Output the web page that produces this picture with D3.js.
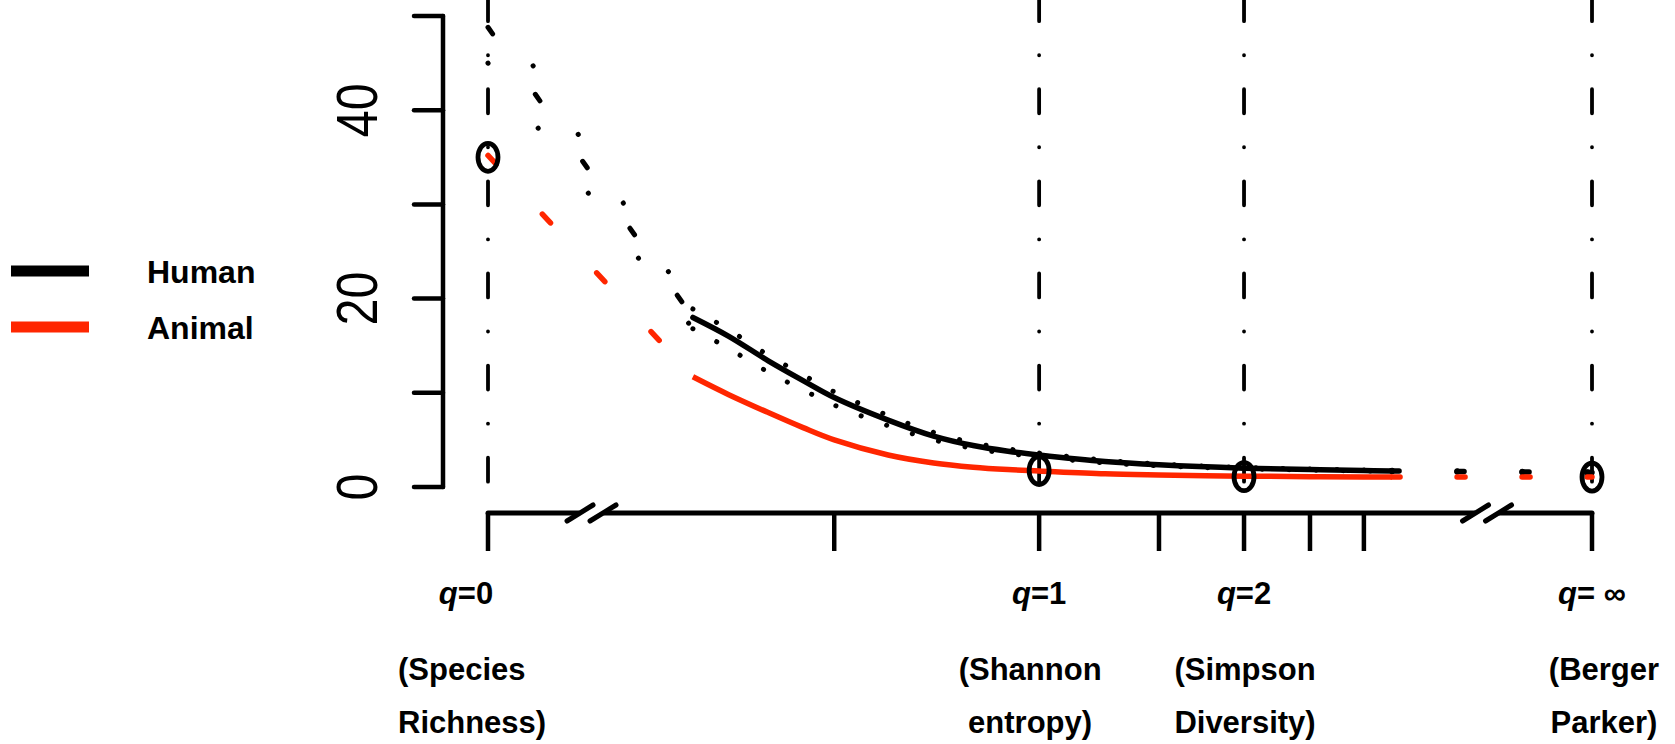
<!DOCTYPE html>
<html>
<head>
<meta charset="utf-8">
<script src="https://cdn.jsdelivr.net/npm/d3@7"></script>
<style>
  html, body { margin: 0; padding: 0; background: #fff; }
  svg { display: block; }
  text { font-family: "Liberation Sans", Arial, Helvetica, sans-serif; fill: #000; }
</style>
</head>
<body>
<svg id="chart" width="1675" height="744"></svg>
<script>
// ---------------- DATA ----------------
// q values of the smooth part of the diversity profiles
const qGrid       = [0.31, 0.35, 0.40, 0.45, 0.50, 0.60, 0.70, 0.80, 0.90, 1.00, 1.25, 1.50, 2.00, 2.50, 3.00, 3.30];
const humanMean   = [18.0, 16.0, 13.4, 11.3, 9.5, 7.1, 5.4, 4.4, 3.8, 3.4, 2.7, 2.35, 2.0, 1.85, 1.75, 1.7];
const humanUpper  = [18.9, 16.7, 14.0, 11.9, 10.1, 7.6, 5.8, 4.7, 4.05, 3.6, 2.85, 2.45, 2.07, 1.9, 1.8, 1.75];
const humanLower  = [16.8, 14.7, 12.2, 10.3, 8.7, 6.5, 5.0, 4.1, 3.55, 3.2, 2.55, 2.25, 1.93, 1.8, 1.7, 1.65];
const animalMean  = [11.7, 9.8, 7.9, 6.3, 5.0, 3.4, 2.55, 2.1, 1.85, 1.7, 1.4, 1.28, 1.15, 1.1, 1.06, 1.05];
// values at the broken ends of the axis: q = 0 and q = infinity  [mean, upper, lower]
const humanAtZero = [48.8, 52.0, 45.0];
const humanAtInf  = [1.55, 1.60, 1.50];
const animalAtZero = 35.2;
const animalAtInf  = 1.05;
// circled reference points (q = 0, 1, 2, infinity)
const circleQ      = [0, 1, 2, Infinity];
const circleValues = [35.0, 1.75, 1.1, 1.05];
// axes
const yTicks       = [0, 10, 20, 30, 40, 50];
const yTickLabels  = ["0", "", "20", "", "40", ""];
const xTicks       = [0, 0.5, 1, 1.5, 2, 2.5, 3, Infinity];
const xBreaks      = [0.22, 4.55];           // where the axis is broken
const axisStandIn  = [0.155, 6.49];          // log-axis positions standing for q=0 and q=infinity
const refLineQ     = [0, 1, 2, Infinity];
const qLabels      = ["0", "1", "2", " \u221E"];
const descLine1    = ["(Species", "(Shannon", "(Simpson", "(Berger"];
const descLine2    = ["Richness)", "entropy)", "Diversity)", "Parker)"];
const seriesNames  = ["Human", "Animal"];
const seriesColors = ["#000000", "#ff2600"];

// ---------------- SCALES ----------------
const svg = d3.select("#chart");
const x = d3.scaleLog().domain(axisStandIn).range([488, 1592]);
const y = d3.scaleLinear().domain([0, 50]).range([487, 16]);
const qPos = q => q === 0 ? x(axisStandIn[0]) : (!isFinite(q) ? x(axisStandIn[1]) : x(q));

const line = d3.line().x(d => qPos(d[0])).y(d => y(d[1]));
const smooth = d3.line().x(d => qPos(d[0])).y(d => y(d[1])).curve(d3.curveCatmullRom.alpha(0.5));

// ---------------- REFERENCE VERTICAL LINES ----------------
svg.append("g").selectAll("line").data(refLineQ).join("line")
  .attr("x1", d => qPos(d)).attr("x2", d => qPos(d))
  .attr("y1", y(52)).attr("y2", y(-2))
  .attr("stroke", "#000").attr("stroke-width", 3.8)
  .attr("stroke-linecap", "round")
  .attr("stroke-dasharray", "24 34 0.1 34");

// ---------------- HUMAN ----------------
const gH = svg.append("g").attr("fill", "none").attr("stroke", "#000").attr("stroke-linecap", "round");
const last = qGrid.length - 1;
// steep segments from q = 0
gH.append("path").attr("d", line([[0, humanAtZero[0]], [qGrid[0], humanMean[0]]]))
  .attr("stroke-width", 5).attr("stroke-dasharray", "8 74");
[humanAtZero[1], humanAtZero[2]].forEach((v, i) => {
  const end = i === 0 ? humanUpper[0] : humanLower[0];
  gH.append("path").attr("d", line([[0, v], [qGrid[0], end]]))
    .attr("stroke-width", 5).attr("stroke-dasharray", "0.1 82");
});
// smooth curve + confidence lines
gH.append("path").attr("d", smooth(qGrid.map((q, i) => [q, humanMean[i]])))
  .attr("stroke-width", 5.5);
[humanUpper, humanLower].forEach(arr => {
  gH.append("path").attr("d", smooth(qGrid.map((q, i) => [q, arr[i]])))
    .attr("stroke-width", 5).attr("stroke-dasharray", "0.1 27");
});
// segments to q = infinity
gH.append("path").attr("d", line([[qGrid[last], humanMean[last]], [Infinity, humanAtInf[0]]]))
  .attr("stroke-width", 5.5).attr("stroke-dasharray", "7 58");
[[humanUpper, humanAtInf[1]], [humanLower, humanAtInf[2]]].forEach(([arr, v]) => {
  gH.append("path").attr("d", line([[qGrid[last], arr[last]], [Infinity, v]]))
    .attr("stroke-width", 5.5).attr("stroke-dasharray", "0.1 65");
});

// ---------------- ANIMAL ----------------
const gA = svg.append("g").attr("fill", "none").attr("stroke", seriesColors[1]).attr("stroke-linecap", "round");
gA.append("path").attr("d", smooth(qGrid.map((q, i) => [q, animalMean[i]])))
  .attr("stroke-width", 5.5).attr("stroke-linecap", "butt");
gA.append("path").attr("d", line([[0, animalAtZero], [qGrid[0], animalMean[0]]]))
  .attr("stroke-width", 5.5).attr("stroke-dasharray", "12 68");
gA.append("path").attr("d", line([[qGrid[last], animalMean[last]], [Infinity, animalAtInf]]))
  .attr("stroke-width", 5.5).attr("stroke-dasharray", "8 57");

// ---------------- CIRCLES ----------------
svg.append("g").selectAll("ellipse").data(circleQ).join("ellipse")
  .attr("cx", d => qPos(d)).attr("cy", (d, i) => y(circleValues[i]))
  .attr("rx", 10).attr("ry", 14)
  .attr("fill", "none").attr("stroke", "#000").attr("stroke-width", 4.8);

// ---------------- Y AXIS ----------------
const gy = svg.append("g");
gy.append("line").attr("x1", 443).attr("x2", 443).attr("y1", y(0)).attr("y2", y(50))
  .attr("stroke", "#000").attr("stroke-width", 4.5).attr("stroke-linecap", "round");
gy.selectAll("line.tick").data(yTicks).join("line").attr("class", "tick")
  .attr("x1", 414).attr("x2", 443).attr("y1", d => y(d)).attr("y2", d => y(d))
  .attr("stroke", "#000").attr("stroke-width", 4.5).attr("stroke-linecap", "round");
gy.selectAll("text").data(yTicks.filter((d, i) => yTickLabels[i] !== "")).join("text")
  .attr("transform", d => `translate(356,${y(d)}) rotate(-90) scale(0.85,1)`)
  .attr("text-anchor", "middle").attr("dy", "0.36em")
  .attr("font-size", 57)
  .text(d => yTickLabels[yTicks.indexOf(d)]);

// ---------------- X AXIS ----------------
const axisY = 513;
const gx = svg.append("g");
gx.append("line").attr("x1", qPos(0)).attr("x2", qPos(Infinity)).attr("y1", axisY).attr("y2", axisY)
  .attr("stroke", "#000").attr("stroke-width", 5).attr("stroke-linecap", "round");
gx.selectAll("line.tick").data(xTicks).join("line").attr("class", "tick")
  .attr("x1", d => qPos(d)).attr("x2", d => qPos(d)).attr("y1", axisY).attr("y2", axisY + 38)
  .attr("stroke", "#000").attr("stroke-width", 4.5);
// axis breaks
xBreaks.forEach(b => {
  const cx = x(b);
  gx.append("rect").attr("x", cx - 12).attr("y", axisY - 5).attr("width", 24).attr("height", 10).attr("fill", "#fff");
  [-11.5, 11.5].forEach(off => {
    gx.append("line").attr("x1", cx + off - 13).attr("y1", axisY + 8).attr("x2", cx + off + 13).attr("y2", axisY - 8)
      .attr("stroke", "#000").attr("stroke-width", 5).attr("stroke-linecap", "round");
  });
});

// ---------------- X LABELS ----------------
const labelQ = [0, 1, 2, Infinity];
const qLabelNudge = [-22, 0, 0, 0];
const descNudge = [-90, -9, 1, 12];
const descAnchor = ["start", "middle", "middle", "middle"];
const gl = svg.append("g").attr("font-weight", "bold").attr("font-size", 31);
labelQ.forEach((q, i) => {
  const t = gl.append("text").attr("x", qPos(q) + qLabelNudge[i]).attr("y", 604).attr("text-anchor", "middle");
  t.append("tspan").attr("font-style", "italic").text("q");
  t.append("tspan").text("=" + qLabels[i]);
  gl.append("text").attr("x", qPos(q) + descNudge[i]).attr("y", 680).attr("text-anchor", descAnchor[i]).text(descLine1[i]);
  gl.append("text").attr("x", qPos(q) + descNudge[i]).attr("y", 733).attr("text-anchor", descAnchor[i]).text(descLine2[i]);
});

// ---------------- LEGEND ----------------
const gLeg = svg.append("g");
seriesNames.forEach((name, i) => {
  const ly = 271 + i * 56;
  gLeg.append("line").attr("x1", 11).attr("x2", 89).attr("y1", ly).attr("y2", ly)
    .attr("stroke", seriesColors[i]).attr("stroke-width", 11);
  gLeg.append("text").attr("x", 147).attr("y", ly + 12).attr("font-weight", "bold").attr("font-size", 32).text(name);
});
</script>
</body>
</html>
